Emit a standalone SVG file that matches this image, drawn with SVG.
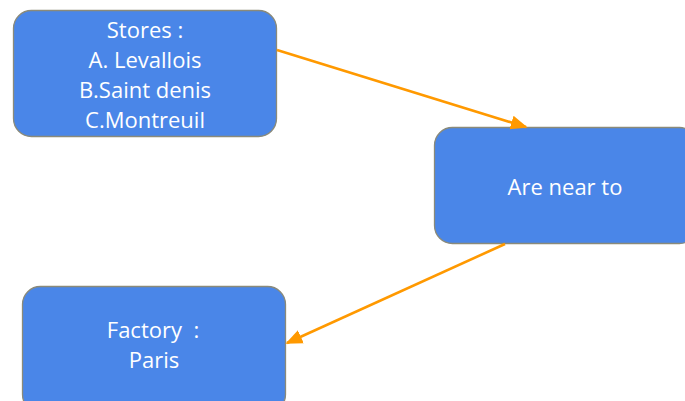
<svg xmlns="http://www.w3.org/2000/svg" width="685" height="401" viewBox="0 0 685 401">
<style>
.box{fill:#4a86e8;stroke:#8a8a7a;stroke-width:1.3}
.t{font-family:"Open Sans","Lato","Liberation Sans",sans-serif;font-size:22px;fill:#ffffff;text-anchor:middle}
.c{stroke:#ff9900;stroke-width:2.6;fill:none}
</style>
<defs>
<marker id="ah" viewBox="0 0 10 10" refX="9" refY="5" markerWidth="6.5" markerHeight="6.5" markerUnits="strokeWidth" orient="auto">
<path d="M0,0.8 L10,5 L0,9.2 Z" fill="#ff9900"/>
</marker>
</defs>
<g id="stores">
<rect class="box" x="13.5" y="10.5" width="263" height="126" rx="18"/>
<text class="t" x="145" y="38">Stores :</text>
<text class="t" x="145" y="68">A. Levallois</text>
<text class="t" x="145" y="98">B.Saint denis</text>
<text class="t" x="145" y="128">C.Montreuil</text>
</g>
<g id="near">
<rect class="box" x="434.5" y="127.5" width="263" height="116" rx="18"/>
<text class="t" x="565" y="195">Are near to</text>
</g>
<g id="factory">
<rect class="box" x="22.5" y="286.5" width="263" height="126" rx="18"/>
<text class="t" x="153" y="338" xml:space="preserve">Factory  :</text>
<text class="t" x="154" y="368">Paris</text>
</g>
<g id="connectors">
<line class="c" x1="277" y1="50" x2="526" y2="127" marker-end="url(#ah)"/>
<line class="c" x1="505" y1="244" x2="287" y2="343" marker-end="url(#ah)"/>
</g>
</svg>
